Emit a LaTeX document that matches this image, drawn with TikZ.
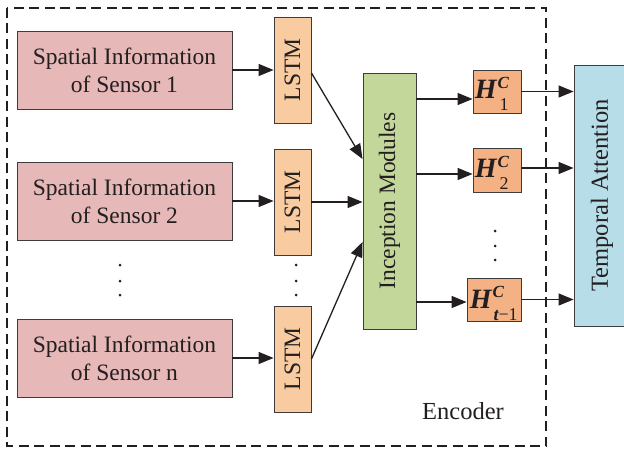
\documentclass[tikz,border=0pt]{standalone}
\usepackage{fontspec}
\setmainfont{Liberation Serif}
\usetikzlibrary{arrows.meta,calc}
\definecolor{pinkbox}{RGB}{230,185,184}
\definecolor{lstmbox}{RGB}{249,203,160}
\definecolor{hbox}{RGB}{244,177,131}
\definecolor{incbox}{RGB}{196,215,155}
\definecolor{tabox}{RGB}{183,221,232}
\definecolor{edge}{RGB}{60,60,60}
\definecolor{ink}{RGB}{35,31,32}
\newcommand{\hlab}[2][3pt]{{\fontsize{28}{28}\selectfont\bfseries\itshape H}\rlap{\kern1pt\raisebox{10.5pt}{\fontsize{17}{17}\selectfont\bfseries\itshape C}}\kern#1\raisebox{-12pt}{\fontsize{18}{18}\selectfont #2}}
\begin{document}
\begin{tikzpicture}[x=1pt,y=-1pt,
  every node/.style={text=ink},
  basebox/.style={draw=edge,line width=0.9pt,inner sep=0pt,align=center,font=\fontsize{23.5}{28}\selectfont},
  sensorbox/.style={basebox,fill=pinkbox,minimum width=215pt,minimum height=78pt},
  lstmbox/.style={basebox,fill=lstmbox,minimum width=37pt,minimum height=106pt},
  hcbox/.style={basebox,fill=hbox,minimum height=43pt},
  hlabel/.style={anchor=base west,inner sep=0pt},
  conn/.style={draw=ink,line width=1.3pt,-{Triangle[length=15pt,width=12pt]}},
  dotmark/.style={circle,fill=ink,inner sep=0pt,minimum size=3pt}
]
\useasboundingbox (0,0) rectangle (624,452);
\clip (0,0) rectangle (624,452);

% encoder frame
\draw[draw=ink,line width=1.1pt,dash pattern=on 10pt off 5.5pt] (7,8) rectangle (546,446);
\node[font=\fontsize{24.5}{28}\selectfont] (enc) at (463,411) {Encoder};

% sensor boxes
\node[sensorbox] (s1) at (124.5,70) {Spatial Information\\of Sensor 1};
\node[sensorbox] (s2) at (124.5,201) {Spatial Information\\of Sensor 2};
\node[sensorbox] (sn) at (124.5,358) {Spatial Information\\of Sensor n};

% LSTM boxes
\node[lstmbox] (l1) at (292.5,70) {\rotatebox{90}{LSTM}};
\node[lstmbox] (l2) at (292.5,202) {\rotatebox{90}{LSTM}};
\node[lstmbox] (ln) at (292.5,359) {\rotatebox{90}{LSTM}};

% dots
\foreach \yy [count=\i] in {265,281,295} {
  \node[dotmark] (ds\i) at (120,\yy) {};
  \node[dotmark] (dl\i) at (296,\yy) {};
}

% inception
\node[basebox,fill=incbox,minimum width=53pt,minimum height=256pt] (inc) at (389.5,201) {\rotatebox{90}{Inception Modules}};

% H boxes
\node[hcbox,minimum width=48pt] (h1) at (497,91.5) {};
\node[hcbox,minimum width=48pt,minimum height=44pt] (h2) at (497,170) {};
\node[hcbox,minimum width=54pt] (ht) at (494,299.5) {};
\node[hlabel] (h1l) at ($(h1.west)+(2,7.5)$) {\hlab{1}};
\node[hlabel] (h2l) at ($(h2.west)+(2,7.5)$) {\hlab{2}};
\node[hlabel] (htl) at ($(ht.west)+(3,8.5)$) {\hlab[2pt]{{\bfseries\itshape t}−1}};
\foreach \yy [count=\i] in {231,246,260} {
  \node[dotmark] (dh\i) at (495,\yy) {};
}

% temporal attention
\node[basebox,fill=tabox,minimum width=56pt,minimum height=261pt,font=\fontsize{24.5}{28}\selectfont] (ta) at (602,195.5) {\rotatebox{90}{Temporal Attention}};

% connectors
\draw[conn] (s1.east) -- (l1.west);
\draw[conn] (s2.east) -- (s2.east -| l2.west);
\draw[conn] (sn.east) -- (sn.east -| ln.west);

\draw[conn] ($(l1.east)+(0,3)$) -- ($(inc.west)+(0,-42)$);
\draw[conn] (l2.east) -- (l2.east -| inc.west);
\draw[conn] (ln.east) -- ($(inc.west)+(0,41)$);

\coordinate (o1) at ($(inc.east)+(0,-102)$);
\coordinate (o2) at ($(inc.east)+(0,-27)$);
\coordinate (o3) at ($(inc.east)+(0,101)$);
\draw[conn] (o1) -- (o1 -| h1.west);
\draw[conn] (o2) -- (o2 -| h2.west);
\draw[conn] (o3) -- (o3 -| ht.west);

\draw[conn] (h1.east) -- (h1.east -| ta.west);
\draw[conn] ($(h2.east)+(0,-2)$) -- ($(h2.east -| ta.west)+(0,-2)$);
\draw[conn] (ht.east) -- (ht.east -| ta.west);
\end{tikzpicture}
\end{document}
